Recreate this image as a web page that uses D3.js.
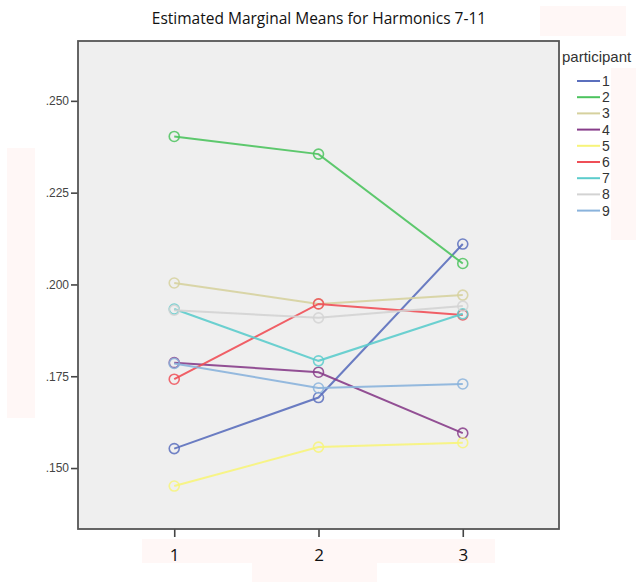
<!DOCTYPE html>
<html>
<head>
<meta charset="utf-8">
<script src="https://cdn.jsdelivr.net/npm/d3@7"></script>
<style>
  html, body { margin: 0; padding: 0; background: #ffffff; }
  svg { display: block; }
</style>
</head>
<body>
<svg id="chart" width="636" height="582"></svg>
<script>
// Levels of the repeated factor on the x axis
const levels = ["1", "2", "3"];
// Participants, in legend order
const participants = ["1", "2", "3", "4", "5", "6", "7", "8", "9"];
// Estimated marginal means per participant at levels 1, 2, 3
const p1 = [0.1553, 0.1692, 0.2110];
const p2 = [0.2403, 0.2355, 0.2057];
const p3 = [0.2004, 0.1947, 0.1971];
const p4 = [0.1787, 0.1761, 0.1595];
const p5 = [0.1451, 0.1557, 0.1569];
const p6 = [0.1742, 0.1947, 0.1917];
const p7 = [0.1933, 0.1792, 0.1920];
const p8 = [0.1930, 0.1909, 0.1941];
const p9 = [0.1785, 0.1718, 0.1729];
// Y axis tick values and labels
const yTicks = [0.150, 0.175, 0.200, 0.225, 0.250];
const yTickLabels = [".150", ".175", ".200", ".225", ".250"];
const yDomain = [0.1334, 0.2663];
const titleText = "Estimated Marginal Means for Harmonics 7-11";
const legendTitle = "participant";

const seriesValues = [p1, p2, p3, p4, p5, p6, p7, p8, p9];
const colors = ["#5b6fbd", "#4cc35e", "#d6d19e", "#873d8a", "#f7f47a",
                "#ef4f57", "#5ccccc", "#d3d3d3", "#8ab3dc"];

const svg = d3.select("#chart");
const frame = { left: 78, right: 559, top: 41, bottom: 529 };

// faint tinted patches in the margins
const patches = [
  [7, 148, 28, 270], [142, 539, 353, 24], [252, 563, 125, 19],
  [611, 68, 25, 172], [540, 6, 86, 30]
];
svg.selectAll("rect.patch").data(patches).join("rect")
  .attr("class", "patch")
  .attr("x", d => d[0]).attr("y", d => d[1])
  .attr("width", d => d[2]).attr("height", d => d[3])
  .attr("fill", "#fff7f6");

const x = d3.scalePoint().domain(levels)
  .range([frame.left, frame.right]).padding(0.667);
const y = d3.scaleLinear().domain(yDomain).range([frame.bottom, frame.top]);

// plot background
svg.append("rect")
  .attr("x", frame.left).attr("y", frame.top)
  .attr("width", frame.right - frame.left)
  .attr("height", frame.bottom - frame.top)
  .attr("fill", "#efefef");

// title
svg.append("text")
  .attr("x", 319).attr("y", 24)
  .attr("text-anchor", "middle")
  .attr("font-family", "'Open Sans', sans-serif")
  .attr("font-size", 15.5)
  .attr("fill", "#111")
  .text(titleText);

// y axis
const yAxis = d3.axisLeft(y).tickValues(yTicks)
  .tickFormat((d, i) => yTickLabels[i]).tickSize(7).tickPadding(2);
const gy = svg.append("g").attr("transform", `translate(${frame.left},0)`).call(yAxis);
gy.select(".domain").remove();
gy.selectAll(".tick line").attr("stroke", "#444").attr("stroke-width", 1.6);
gy.selectAll(".tick text")
  .attr("font-family", "Arial, 'Liberation Sans', sans-serif")
  .attr("font-size", 12).attr("fill", "#444");

// x axis
const xAxis = d3.axisBottom(x).tickSize(8).tickPadding(12);
const gx = svg.append("g").attr("transform", `translate(0,${frame.bottom})`).call(xAxis);
gx.select(".domain").remove();
gx.selectAll(".tick line").attr("stroke", "#444").attr("stroke-width", 1.6);
gx.selectAll(".tick text")
  .attr("font-family", "'Open Sans', sans-serif")
  .attr("font-size", 17).attr("fill", "#111");

// series lines and hollow markers
const line = d3.line().x((d, i) => x(levels[i])).y(d => y(d));
const groups = svg.selectAll("g.series").data(seriesValues).join("g").attr("class", "series");
groups.append("path")
  .attr("d", d => line(d))
  .attr("fill", "none")
  .attr("stroke", (d, i) => colors[i])
  .attr("stroke-width", 2)
  .attr("stroke-opacity", 0.9);
groups.each(function (vals, si) {
  d3.select(this).selectAll("circle").data(vals).join("circle")
    .attr("cx", (d, i) => x(levels[i]))
    .attr("cy", d => y(d))
    .attr("r", 5)
    .attr("fill", "none")
    .attr("stroke", colors[si])
    .attr("stroke-width", 1.6)
    .attr("stroke-opacity", 0.85);
});

// frame border
svg.append("rect")
  .attr("x", frame.left).attr("y", frame.top)
  .attr("width", frame.right - frame.left)
  .attr("height", frame.bottom - frame.top)
  .attr("fill", "none")
  .attr("stroke", "#555")
  .attr("stroke-width", 1.8);

// legend
const legend = svg.append("g");
legend.append("text")
  .attr("x", 562).attr("y", 62)
  .attr("font-family", "Arial, 'Liberation Sans', sans-serif")
  .attr("font-size", 15).attr("fill", "#333")
  .text(legendTitle);
const rows = legend.selectAll("g.row").data(participants).join("g")
  .attr("class", "row")
  .attr("transform", (d, i) => `translate(0,${81 + i * 16.2})`);
rows.append("line")
  .attr("x1", 577).attr("x2", 600)
  .attr("stroke", (d, i) => colors[i]).attr("stroke-width", 2);
rows.append("text")
  .attr("x", 602).attr("y", 5)
  .attr("font-family", "Arial, 'Liberation Sans', sans-serif")
  .attr("font-size", 14).attr("fill", "#333")
  .text(d => d);
</script>
</body>
</html>
